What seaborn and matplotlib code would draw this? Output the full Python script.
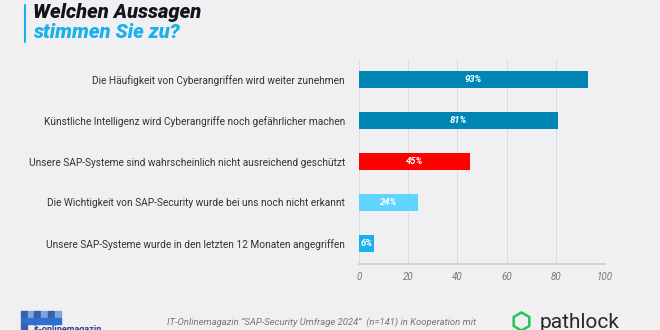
import matplotlib
matplotlib.use("Agg")
import matplotlib.pyplot as plt
import seaborn as sns
import pandas as pd
from matplotlib.patches import Rectangle

categories = [
    "Die Häufigkeit von Cyberangriffen wird weiter zunehmen",
    "Künstliche Intelligenz wird Cyberangriffe noch gefährlicher machen",
    "Unsere SAP-Systeme sind wahrscheinlich nicht ausreichend geschützt",
    "Die Wichtigkeit von SAP-Security wurde bei uns noch nicht erkannt",
    "Unsere SAP-Systeme wurde in den letzten 12 Monaten angegriffen",
]
values = [93, 81, 45, 24, 6]
colors = ["#0085b5", "#0085b5", "#ff0000", "#5fd4ff", "#1ab2ee"]
xticks = [0, 20, 40, 60, 80, 100]

bg = "#f0f0f3"
sns.set_theme(style="white")
plt.rcParams["font.family"] = ["Roboto", "DejaVu Sans"]

fig = plt.figure(figsize=(6.6, 3.3), dpi=100, facecolor=bg)
ax = fig.add_axes([359/660, 1-264/330, 246/660, 205/330])
ax.set_facecolor(bg)

df = pd.DataFrame({"cat": categories, "val": values})
sns.barplot(data=df, y="cat", x="val", hue="cat", palette=colors, legend=False,
            width=0.42, ax=ax, edgecolor="none", saturation=1)

ax.set_xlim(0, 100)
ax.set_xticks(xticks)
ax.set_xticklabels([str(t) for t in xticks], fontsize=7, style="italic", color="#777777")
ax.tick_params(axis="x", length=0, pad=6)
ax.tick_params(axis="y", length=0, pad=10)
for lbl in ax.get_yticklabels():
    lbl.set_fontsize(7.3)
    lbl.set_color("#333333")
ax.set_xlabel("")
ax.set_ylabel("")
ax.grid(axis="x", color="#dcdce2", linewidth=0.7)
ax.set_axisbelow(True)
for s in ["top", "right", "left"]:
    ax.spines[s].set_visible(False)
ax.spines["bottom"].set_color("#cccccc")
ax.spines["bottom"].set_linewidth(1.2)

for i, v in enumerate(values):
    ax.text(v / 2, i, f"{v}%", ha="center", va="center", color="white",
            fontsize=6.8, fontweight="bold", style="italic")

# Title
fig.add_artist(plt.Line2D([25/660, 25/660], [1-5/330, 1-42/330], color="#1ab0ea", lw=1.5))
fig.text(33/660, 1-12/330, "Welchen Aussagen", fontsize=14.5, fontweight="heavy",
         style="italic", color="#14141e", va="center")
fig.text(33/660, 1-33/330, "stimmen Sie zu?", fontsize=14.5, fontweight="heavy",
         style="italic", color="#1ab0ea", va="center")

# Footer text
fig.text(167/660, 1-322/330,
         "IT-Onlinemagazin \u201cSAP-Security Umfrage 2024\u201d  (n=141) in Kooperation mit",
         fontsize=6.8, style="italic", color="#777777", va="center")

# it-onlinemagazin logo (squares)
sq_cols = [["#3a5ea8", "#7ea4dc", "#3a5ea8", "#7ea4dc", "#3a5ea8", "#7ea4dc"],
           ["#2f6fd0", "#2f6fd0", "#2f6fd0", "#2f6fd0", "#2f6fd0", "#2f6fd0"]]
for r in range(2):
    for c in range(6):
        fig.add_artist(Rectangle(((21 + c * 6.7) / 660, 1 - (311 + r * 6.6 + 6) / 330),
                                 6 / 660, 6 / 330, color=sq_cols[r][c],
                                 transform=fig.transFigure))
fig.add_artist(Rectangle((21 / 660, 0), 6 / 660, 6 / 330, color="#3a5ea8",
                         transform=fig.transFigure))
fig.text(34/660, 1-329/330, "it-onlinemagazin", fontsize=6.5, fontweight="bold",
         color="#2b3f8c", va="center")

# pathlock logo
fig.add_artist(plt.Line2D([521 / 660], [1 - 321 / 330], marker="h", markersize=13,
                          markerfacecolor="none", markeredgecolor="#22c55e",
                          markeredgewidth=1.8, transform=fig.transFigure))
fig.text(540/660, 1-322/330, "pathlock", fontsize=15, color="#2a2a2a", va="center")

fig.savefig("out.png", dpi=100, facecolor=bg)
